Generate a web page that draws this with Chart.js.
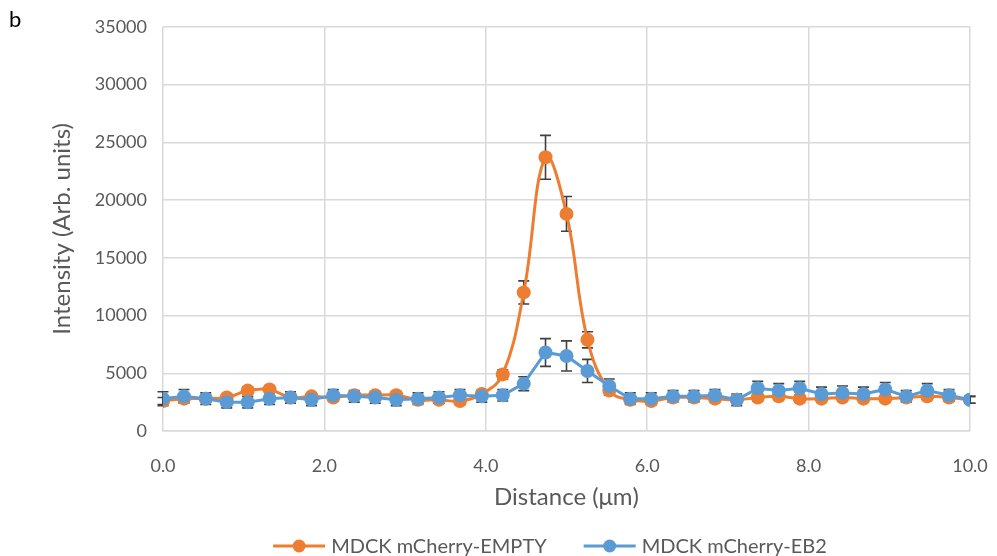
<!DOCTYPE html>
<html>
<head>
<meta charset="utf-8">
<script src="https://cdn.jsdelivr.net/npm/chart.js@4/dist/chart.umd.min.js"></script>
<style>
  html, body { margin: 0; padding: 0; background: #fff; }
  #wrap { width: 997px; height: 556px; position: relative; }
</style>
</head>
<body>
<div id="wrap"><canvas id="chart"></canvas></div>
<script>
// distance along the line scan (um)
const distances = [0.00, 0.26, 0.53, 0.79, 1.05, 1.32, 1.58, 1.84, 2.11, 2.37,
                   2.63, 2.89, 3.16, 3.42, 3.68, 3.95, 4.21, 4.47, 4.74, 5.00,
                   5.26, 5.53, 5.79, 6.05, 6.32, 6.58, 6.84, 7.11, 7.37, 7.63,
                   7.89, 8.16, 8.42, 8.68, 8.95, 9.21, 9.47, 9.74, 10.00];

const emptyValues = [2600, 2800, 2800, 2900, 3500, 3600, 2900, 3000, 2900, 3100,
                     3100, 3100, 2700, 2700, 2600, 3200, 4900, 12000, 23700, 18800,
                     7900, 3500, 2700, 2600, 2900, 2900, 2800, 2700, 2900, 3000,
                     2800, 2800, 2900, 2800, 2800, 2900, 3000, 2900, 2700];
const emptyErrors = [300, 300, 300, 300, 300, 300, 300, 300, 300, 300,
                     300, 300, 300, 300, 300, 300, 400, 1000, 1900, 1500,
                     700, 400, 300, 300, 300, 300, 300, 300, 300, 300,
                     300, 300, 300, 300, 300, 300, 300, 300, 300];

const eb2Values = [2800, 3000, 2800, 2500, 2500, 2800, 2900, 2700, 3100, 3000,
                   2900, 2700, 2800, 2900, 3100, 3000, 3100, 4100, 6800, 6500,
                   5200, 3900, 2800, 2800, 3000, 3000, 3100, 2700, 3700, 3500,
                   3700, 3200, 3300, 3200, 3600, 3000, 3500, 3100, 2700];
const eb2Errors = [600, 600, 500, 500, 500, 500, 500, 500, 500, 500,
                   500, 500, 500, 500, 500, 500, 500, 600, 1200, 1300,
                   1000, 600, 500, 500, 500, 500, 500, 500, 600, 600,
                   600, 600, 600, 600, 600, 500, 600, 500, 300];

const seriesNames = ["MDCK mCherry-EMPTY", "MDCK mCherry-EB2"];
const seriesColors = ["#ED7D31", "#5B9BD5"];

const xTicks = { min: 0, max: 10, step: 2 };
const yTicks = { min: 0, max: 35000, step: 5000 };

const FONT = "Lato, 'Open Sans', sans-serif";
const TEXT = "#595959";

function toPoints(xs, ys) {
    return xs.map((x, i) => ({ x: x, y: ys[i] }));
}

// draws vertical error bars with caps underneath the markers
const errorBars = {
    id: "errorBars",
    beforeDatasetsDraw(chart) {
        const ctx = chart.ctx;
        const xs = chart.scales.x, ys = chart.scales.y;
        const errs = [emptyErrors, eb2Errors];
        ctx.save();
        ctx.strokeStyle = "#404040";
        ctx.lineWidth = 1.6;
        chart.data.datasets.forEach((ds, d) => {
            ds.data.forEach((p, i) => {
                const px = xs.getPixelForValue(p.x);
                const top = ys.getPixelForValue(p.y + errs[d][i]);
                const bot = ys.getPixelForValue(p.y - errs[d][i]);
                ctx.beginPath();
                ctx.moveTo(px, top); ctx.lineTo(px, bot);
                ctx.moveTo(px - 5.5, top); ctx.lineTo(px + 5.5, top);
                ctx.moveTo(px - 5.5, bot); ctx.lineTo(px + 5.5, bot);
                ctx.stroke();
            });
        });
        ctx.restore();
    }
};

// panel letter + legend (line with a dot, then the series name)
const extras = {
    id: "extras",
    afterDraw(chart) {
        const ctx = chart.ctx;
        ctx.save();
        ctx.fillStyle = "#000";
        ctx.font = "22px " + FONT;
        ctx.textBaseline = "middle";
        ctx.fillText("b", 9, 20);

        ctx.font = "20px " + FONT;
        const glyph = 52, gapText = 6, gapItem = 37;
        const widths = seriesNames.map(n => ctx.measureText(n).width);
        const total = widths.reduce((a, w) => a + glyph + gapText + w, 0) + gapItem;
        let x = 550 - total / 2;
        const y = 546;
        seriesNames.forEach((name, i) => {
            ctx.strokeStyle = seriesColors[i];
            ctx.fillStyle = seriesColors[i];
            ctx.lineWidth = 3;
            ctx.beginPath(); ctx.moveTo(x, y); ctx.lineTo(x + glyph, y); ctx.stroke();
            ctx.beginPath(); ctx.arc(x + glyph / 2, y, 6.5, 0, Math.PI * 2); ctx.fill();
            ctx.fillStyle = TEXT;
            ctx.fillText(name, x + glyph + gapText, y + 1);
            x += glyph + gapText + widths[i] + gapItem;
        });
        ctx.restore();
    }
};

const ctx = document.getElementById("chart").getContext("2d");
new Chart(ctx, {
    type: "line",
    data: {
        datasets: [
            {
                label: seriesNames[0],
                data: toPoints(distances, emptyValues),
                borderColor: seriesColors[0],
                backgroundColor: seriesColors[0],
                borderWidth: 3,
                pointRadius: 7,
                pointBorderWidth: 0,
                tension: 0.4,
                order: 1
            },
            {
                label: seriesNames[1],
                data: toPoints(distances, eb2Values),
                borderColor: seriesColors[1],
                backgroundColor: seriesColors[1],
                borderWidth: 3,
                pointRadius: 7,
                pointBorderWidth: 0,
                tension: 0,
                order: 0
            }
        ]
    },
    options: {
        responsive: true,
        maintainAspectRatio: false,
        animation: false,
        layout: { padding: { top: 26, right: 27, left: 0, bottom: 0 } },
        scales: {
            x: {
                type: "linear",
                min: xTicks.min,
                max: xTicks.max,
                grid: { color: "#d9d9d9", lineWidth: 1.5, drawTicks: false },
                border: { color: "#d9d9d9", width: 1.5 },
                ticks: {
                    stepSize: xTicks.step,
                    padding: 24,
                    color: TEXT,
                    font: { family: FONT, size: 18 },
                    callback: v => v.toFixed(1)
                },
                title: {
                    display: true,
                    text: "Distance (μm)",
                    color: TEXT,
                    font: { family: FONT, size: 24 },
                    padding: { top: 0, bottom: 44 }
                },
                afterFit: s => {
                    s.height = 125;
                    s.paddingLeft = 0;
                    s.paddingRight = 0;
                }
            },
            y: {
                min: yTicks.min,
                max: yTicks.max,
                grid: { color: "#d9d9d9", lineWidth: 1.5, drawTicks: false },
                border: { display: false },
                ticks: {
                    stepSize: yTicks.step,
                    padding: 16,
                    color: TEXT,
                    font: { family: FONT, size: 18 },
                    callback: v => String(v)
                },
                title: {
                    display: true,
                    text: "Intensity (Arb. units)",
                    color: TEXT,
                    font: { family: FONT, size: 24 },
                    padding: { top: 48, bottom: 0 }
                },
                afterFit: s => { s.width = 163; }
            }
        },
        plugins: {
            legend: { display: false },
            tooltip: { enabled: false }
        }
    },
    plugins: [errorBars, extras]
});
</script>
</body>
</html>
